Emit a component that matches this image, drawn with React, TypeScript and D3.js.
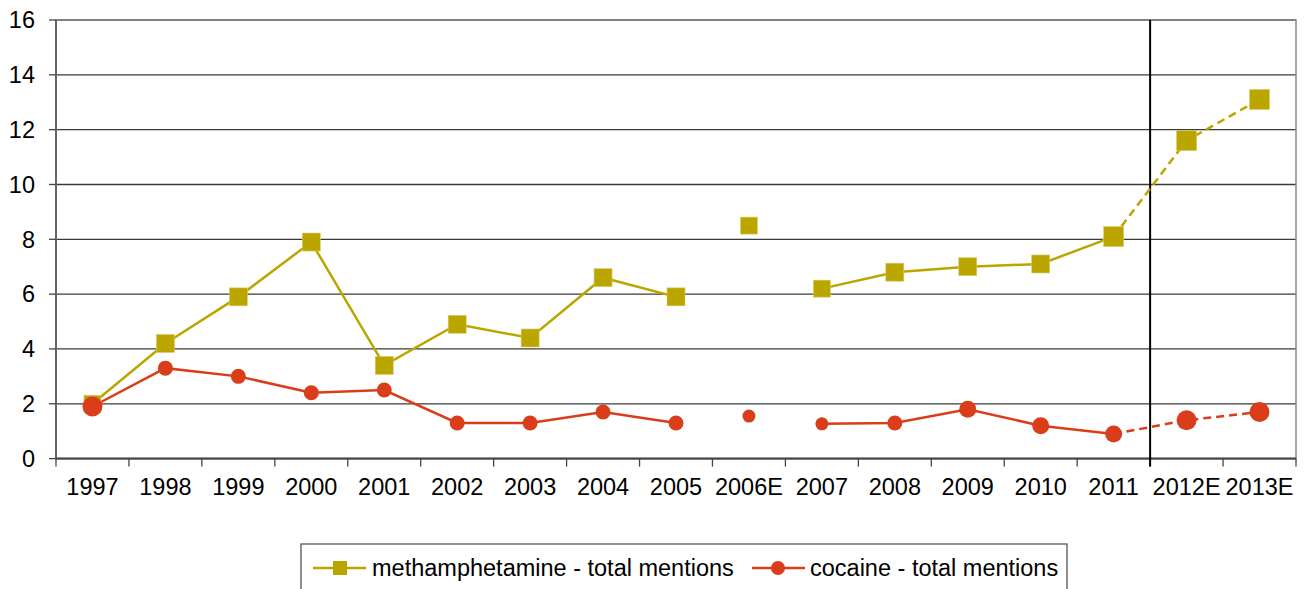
import React from "react";
import * as d3 from "d3";

const categories = ["1997","1998","1999","2000","2001","2002","2003","2004","2005","2006E","2007","2008","2009","2010","2011","2012E","2013E"];
const methValues = [2.0,4.2,5.9,7.9,3.4,4.9,4.4,6.6,5.9,8.5,6.2,6.8,7.0,7.1,8.1,11.6,13.1];
const cocaineValues = [1.9,3.3,3.0,2.4,2.5,1.3,1.3,1.7,1.3,1.55,1.27,1.3,1.8,1.2,0.9,1.4,1.7];
// segments: [fromIndex, toIndex]
const solidSegments = [[0,8],[10,14]];
const dashedSegments = [[14,16]];
const yTicks = [0,2,4,6,8,10,12,14,16];
// marker styles (sizes) kept separate from data
const methMarkerSize = [17,18,18,18,18,18,18,18,18,17,17,18,18,18,20,20,20];
const cocaineMarkerR = [10,7.5,7.5,7.5,7.5,7.5,7.5,7.5,7.5,6.5,6.5,7.5,8.5,8.5,8.5,10,10];

const METH = "#BBA600";
const COC = "#D93D19";

export default function App() {
  const W = 1307, H = 589;
  const left = 56, right = 1296, top = 20, bottom = 458.6;
  const x = d3.scaleBand<string>().domain(categories).range([left, right]).padding(0);
  const y = d3.scaleLinear().domain([0, 16]).range([bottom, top]);
  const cx = (i: number) => (x(categories[i]) as number) + x.bandwidth() / 2;

  const seg = (vals: number[], a: number, b: number) => {
    const idx = d3.range(a, b + 1);
    return d3.line<number>().x((i) => cx(i)).y((i) => y(vals[i]))(idx) as string;
  };

  const font = "Arial, 'Liberation Sans', sans-serif";
  const fs = 23.5;
  const splitX = x("2012E") as number;

  return (
    <svg width={W} height={H} style={{ position: "absolute", left: 0, top: 0, background: "#fff" }} fontFamily={font}>
      {/* gridlines */}
      {yTicks.map((t) => (
        <line key={"g" + t} x1={left} x2={right} y1={y(t)} y2={y(t)} stroke="#3a3a3a" strokeWidth={1.3} />
      ))}
      {/* plot border */}
      <rect x={left} y={top} width={right - left} height={bottom - top} fill="none" stroke="#8a8a8a" strokeWidth={1.5} />
      <line x1={left} x2={left} y1={top} y2={bottom} stroke="#666" strokeWidth={2} />
      <line x1={left} x2={right} y1={bottom} y2={bottom} stroke="#444" strokeWidth={2} />
      {/* y ticks */}
      {yTicks.map((t) => (
        <g key={"yt" + t}>
          <line x1={left - 7} x2={left} y1={y(t)} y2={y(t)} stroke="#444" strokeWidth={1.3} />
          <text x={35} y={y(t)} dy="0.35em" textAnchor="end" fontSize={fs} fill="#000">{t}</text>
        </g>
      ))}
      {/* x ticks */}
      {categories.map((c) => (
        <line key={"xt" + c} x1={x(c) as number} x2={x(c) as number} y1={bottom} y2={bottom + 8} stroke="#444" strokeWidth={1.3} />
      ))}
      <line x1={right} x2={right} y1={bottom} y2={bottom + 8} stroke="#444" strokeWidth={1.3} />
      {categories.map((c, i) => (
        <text key={"xl" + c} x={cx(i)} y={495} textAnchor="middle" fontSize={fs} fill="#000">{c}</text>
      ))}
      {/* split line */}
      <line x1={splitX} x2={splitX} y1={top} y2={bottom + 8} stroke="#000" strokeWidth={2} />

      {/* meth lines */}
      {solidSegments.map(([a, b]) => (
        <path key={"ms" + a} d={seg(methValues, a, b)} fill="none" stroke={METH} strokeWidth={2.5} />
      ))}
      {dashedSegments.map(([a, b]) => (
        <path key={"md" + a} d={seg(methValues, a, b)} fill="none" stroke={METH} strokeWidth={2.5} strokeDasharray="8,5" />
      ))}
      {/* cocaine lines */}
      {solidSegments.map(([a, b]) => (
        <path key={"cs" + a} d={seg(cocaineValues, a, b)} fill="none" stroke={COC} strokeWidth={2.5} />
      ))}
      {dashedSegments.map(([a, b]) => (
        <path key={"cd" + a} d={seg(cocaineValues, a, b)} fill="none" stroke={COC} strokeWidth={2.5} strokeDasharray="8,5" />
      ))}
      {/* meth markers */}
      {methValues.map((v, i) => {
        const s = methMarkerSize[i];
        return <rect key={"mm" + i} x={cx(i) - s / 2} y={y(v) - s / 2} width={s} height={s} fill={METH} stroke="#d8cc6a" strokeWidth={0.6} />;
      })}
      {/* cocaine markers */}
      {cocaineValues.map((v, i) => (
        <circle key={"cm" + i} cx={cx(i)} cy={y(v)} r={cocaineMarkerR[i]} fill={COC} />
      ))}

      {/* legend */}
      <rect x={301} y={544} width={766} height={60} fill="#fff" stroke="#555" strokeWidth={1.3} />
      <line x1={313} x2={366} y1={568} y2={568} stroke={METH} strokeWidth={2.5} />
      <rect x={333} y={561} width={14} height={14} fill={METH} />
      <text x={372} y={576} fontSize={fs} fill="#000">methamphetamine - total mentions</text>
      <line x1={752} x2={805} y1={568} y2={568} stroke={COC} strokeWidth={2.5} />
      <circle cx={778} cy={568} r={7} fill={COC} />
      <text x={810} y={576} fontSize={fs} fill="#000">cocaine - total mentions</text>
    </svg>
  );
}
